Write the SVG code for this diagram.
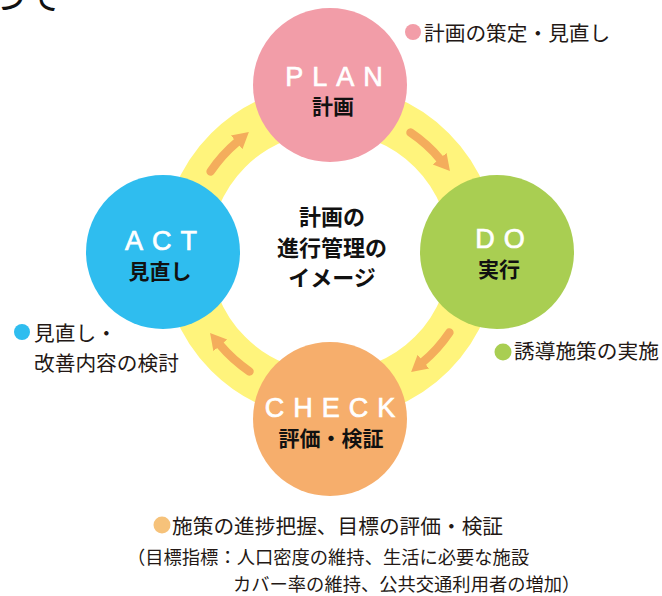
<svg xmlns="http://www.w3.org/2000/svg" width="662" height="596" viewBox="0 0 662 596">
<style>
.lat{font-family:"Liberation Sans",Arial,sans-serif;font-size:27px;fill:#ffffff;stroke:#ffffff;stroke-width:0.7px;letter-spacing:9px;text-anchor:middle}
.jb{font-family:"Noto Sans CJK JP",sans-serif;font-weight:bold;font-size:21px;fill:#111111;text-anchor:middle}
.jc{font-family:"Noto Sans CJK JP",sans-serif;font-weight:bold;font-size:22px;fill:#111111;text-anchor:middle}
.leg{font-family:"Noto Sans CJK JP",sans-serif;font-size:20.7px;fill:#231815}
.sub{font-family:"Noto Sans CJK JP",sans-serif;font-size:18.3px;fill:#231815}
.arr{fill:none;stroke:#F4AD5C;stroke-width:8.5;stroke-linecap:round;marker-end:url(#ah)}
</style>
<defs>
<marker id="ah" markerUnits="userSpaceOnUse" viewBox="0 -10 18 20" refX="1" refY="0" markerWidth="18" markerHeight="20" orient="auto">
<path d="M0,-9 L16,0 L0,9 Z" fill="#F4AD5C"/>
</marker>
</defs>
<rect x="0" y="0" width="662" height="596" fill="#ffffff"/>
<text x="-10" y="10" style="font-family:'Noto Sans CJK JP',sans-serif;font-size:36px;fill:#111111">つて</text>
<g id="ring">
<circle cx="330" cy="252" r="144" fill="none" stroke="#FFF47C" stroke-width="48"/>
</g>
<g id="connectors">
<path class="arr" d="M410.5,132.6 A144,144 0 0 1 440.3,159.4"/>
<path class="arr" d="M449.4,332.5 A144,144 0 0 1 422.6,362.3"/>
<path class="arr" d="M249.5,371.4 A144,144 0 0 1 219.7,344.6"/>
<path class="arr" d="M210.6,171.5 A144,144 0 0 1 237.4,141.7"/>
</g>
<g id="plan">
<circle cx="330" cy="85" r="77" fill="#F29DA8"/>
<text class="lat" x="338.5" y="86">PLAN</text>
<text class="jb" x="333" y="113.5">計画</text>
</g>
<g id="do">
<circle cx="497" cy="252" r="77" fill="#A9CE52"/>
<text class="lat" x="504.5" y="248">DO</text>
<text class="jb" x="499" y="276.5">実行</text>
</g>
<g id="check">
<circle cx="330" cy="419" r="77" fill="#F6AE6C"/>
<text class="lat" x="334.5" y="417">CHECK</text>
<text class="jb" x="331" y="445.5">評価・検証</text>
</g>
<g id="act">
<circle cx="163" cy="252" r="77" fill="#2FBDEF"/>
<text class="lat" x="165.5" y="250">ACT</text>
<text class="jb" x="160" y="278.5">見直し</text>
</g>
<g id="center-label">
<text class="jc" x="332" y="225">計画の</text>
<text class="jc" x="332" y="256">進行管理の</text>
<text class="jc" x="332" y="286">イメージ</text>
</g>
<g id="legend-plan">
<circle cx="413" cy="32" r="8" fill="#F29DA8"/>
<text class="leg" x="424" y="40.5">計画の策定・見直し</text>
</g>
<g id="legend-act">
<circle cx="22" cy="332" r="8" fill="#2FBDEF"/>
<text class="leg" x="34" y="340.5">見直し・</text>
<text class="leg" x="34" y="370.5">改善内容の検討</text>
</g>
<g id="legend-do">
<circle cx="503" cy="352" r="8.5" fill="#A9CE52"/>
<text class="leg" x="514" y="358.5">誘導施策の実施</text>
</g>
<g id="legend-check">
<circle cx="162" cy="525" r="8.5" fill="#F6C27A"/>
<text class="leg" x="172" y="533.5">施策の進捗把握、目標の評価・検証</text>
<text class="sub" x="127" y="563.5">（目標指標：人口密度の維持、生活に必要な施設</text>
<text class="sub" x="233" y="590.5">カバー率の維持、公共交通利用者の増加）</text>
</g>
</svg>
